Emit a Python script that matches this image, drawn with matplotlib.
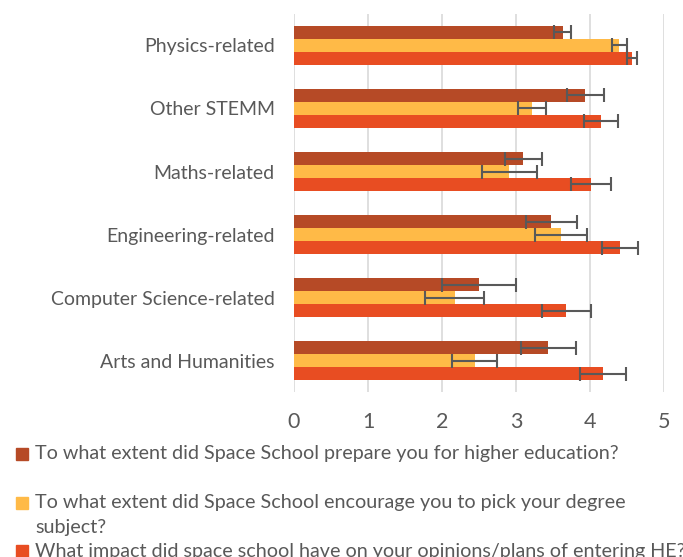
import numpy as np
import matplotlib.pyplot as plt
from matplotlib.patches import Rectangle

plt.rcParams['font.family'] = ['Lato', 'DejaVu Sans']

categories = ['Physics-related', 'Other STEMM', 'Maths-related',
              'Engineering-related', 'Computer Science-related', 'Arts and Humanities']
series_labels = ['To what extent did Space School prepare you for higher education?',
                 'To what extent did Space School encourage you to pick your degree\nsubject?',
                 'What impact did space school have on your opinions/plans of entering HE?']
prepare = [3.63, 3.94, 3.10, 3.48, 2.50, 3.44]
prepare_err = [0.11, 0.25, 0.25, 0.34, 0.50, 0.37]
encourage = [4.40, 3.22, 2.91, 3.61, 2.17, 2.44]
encourage_err = [0.095, 0.19, 0.37, 0.35, 0.40, 0.30]
impact = [4.57, 4.15, 4.01, 4.41, 3.68, 4.18]
impact_err = [0.07, 0.23, 0.27, 0.24, 0.33, 0.31]

colors = ['#B64A26', '#FFBA47', '#E84D22']
values = [prepare, encourage, impact]
errors = [prepare_err, encourage_err, impact_err]

fig = plt.figure(figsize=(6.83, 5.57), dpi=100)
ax = fig.add_axes([0.4305, 0.296, 0.5415, 0.679])

y = np.arange(len(categories))
h = 0.206
for i, (v, e, c) in enumerate(zip(values, errors, colors)):
    ax.barh(y + (i - 1) * h, v, height=h, color=c, xerr=e, zorder=2,
            error_kw=dict(ecolor='#595959', elinewidth=1.5, capsize=5, capthick=1.5))

ax.set_xlim(0, 5)
ax.set_ylim(len(categories) - 0.5, -0.5)
ax.set_yticks(y)
ax.set_yticklabels(categories, fontsize=14, color='#595959')
ax.set_xticks(range(6))
ax.tick_params(axis='x', labelsize=15.5, colors='#595959', length=0, pad=14)
ax.tick_params(axis='y', length=0, pad=14)
ax.grid(axis='x', color='#D9D9D9', linewidth=1.2, zorder=0)
for s in ax.spines.values():
    s.set_visible(False)

# legend drawn by hand to keep the uneven spacing (square sits on first line)
text_y = [454, 515, 551]
mark_y = [454, 503, 551]
for lab, c, ty, my in zip(series_labels, colors, text_y, mark_y):
    fig.patches.append(Rectangle((16 / 683, 1 - (my + 6) / 557), 12 / 683, 12 / 557,
                                 transform=fig.transFigure, color=c))
    fig.text(35 / 683, 1 - ty / 557, lab, fontsize=14.2, color='#595959', va='center',
             linespacing=1.58)

fig.savefig('out.png', dpi=100)
